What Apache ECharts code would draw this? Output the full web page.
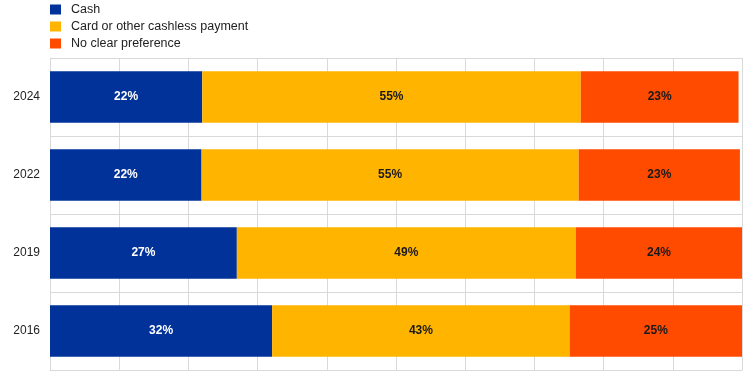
<!DOCTYPE html>
<html><head><meta charset="utf-8">
<script src="https://cdn.jsdelivr.net/npm/echarts@6/dist/echarts.min.js"></script>
<style>html,body{margin:0;padding:0;background:#fff}#c{width:745px;height:373px}</style>
</head><body><div id="c"></div>
<script>
const categories = ['2016', '2019', '2022', '2024'];
const cash = [32.1, 27.0, 21.9, 22.0];
const card = [43.0, 49.0, 54.5, 54.7];
const noPref = [24.9, 24.0, 23.3, 22.8];
const seriesNames = ['Cash', 'Card or other cashless payment', 'No clear preference'];
const colors = ['#003299', '#FFB400', '#FF4B00'];
const labelColors = ['#ffffff', '#1a1a1a', '#1a1a1a'];
const values = [cash, card, noPref];

const chart = echarts.init(document.getElementById('c'));
chart.setOption({
  animation: false,
  textStyle: { fontFamily: 'Liberation Sans, Arial, sans-serif' },
  legend: {
    orient: 'vertical', left: 45, top: -2,
    itemWidth: 11, itemHeight: 10, itemGap: 4,
    icon: 'rect',
    textStyle: { fontSize: 12.5, color: '#222', padding: [0, 0, 0, 5] },
    data: seriesNames
  },
  grid: { left: 50, right: 3, top: 58, bottom: 3, containLabel: false },
  xAxis: {
    type: 'value', min: 0, max: 100, interval: 10,
    axisLabel: { show: false }, axisTick: { show: false },
    axisLine: { show: true, lineStyle: { color: '#d9d9d9' } },
    splitLine: { show: true, lineStyle: { color: '#d9d9d9', width: 1 } }
  },
  yAxis: {
    type: 'category', data: categories,
    axisTick: { show: false },
    axisLine: { show: true, lineStyle: { color: '#d9d9d9' } },
    axisLabel: { fontSize: 12, color: '#222', margin: 10 },
    splitLine: { show: true, lineStyle: { color: '#d9d9d9', width: 1 } }
  },
  series: seriesNames.map((n, i) => ({
    name: n, type: 'bar', stack: 'total',
    barWidth: '66%',
    itemStyle: { color: colors[i] },
    label: {
      show: true, position: 'inside',
      color: labelColors[i], fontWeight: 'bold', fontSize: 12,
      formatter: p => Math.round(p.value) + '%'
    },
    data: values[i]
  }))
});
</script></body></html>
